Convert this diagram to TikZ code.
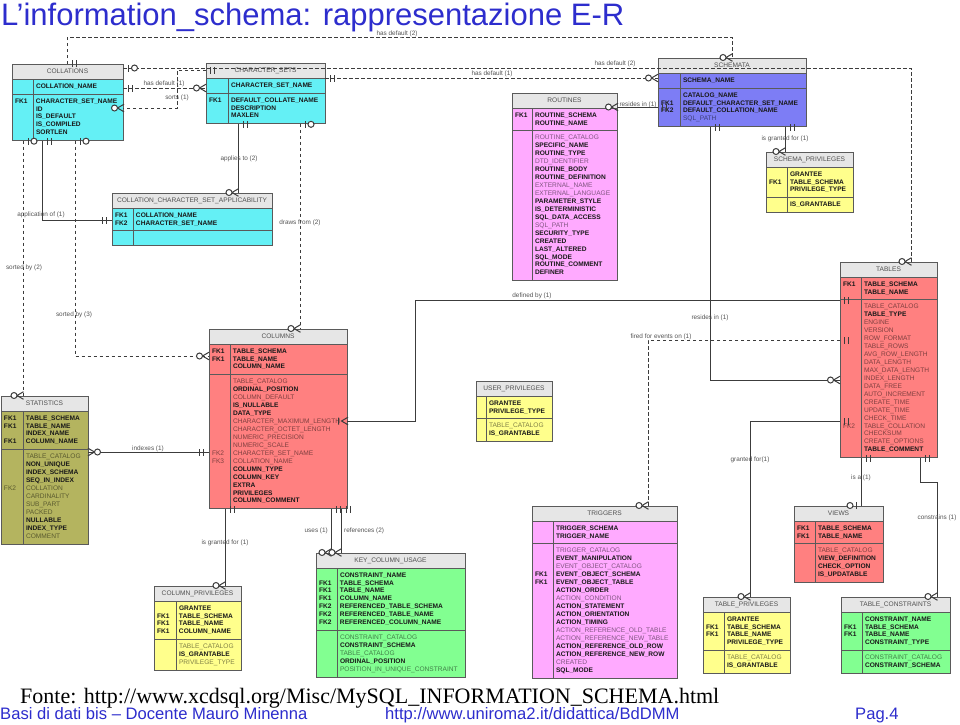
\documentclass[tikz,border=0pt]{standalone}
\usepackage{fontspec}
\setmainfont{Liberation Sans}
\newfontfamily\srcfont{Liberation Serif}
\usetikzlibrary{positioning, decorations.markings}

\definecolor{cyanent}{RGB}{100,240,245}
\definecolor{pinkent}{RGB}{255,170,255}
\definecolor{blueent}{RGB}{125,125,245}
\definecolor{yellowent}{RGB}{255,255,140}
\definecolor{redent}{RGB}{255,128,128}
\definecolor{oliveent}{RGB}{180,180,95}
\definecolor{greenent}{RGB}{130,255,145}
\definecolor{headfill}{RGB}{230,230,230}
\definecolor{headtext}{RGB}{80,80,80}
\definecolor{entborder}{RGB}{90,90,90}
\definecolor{linecol}{RGB}{60,60,60}
\definecolor{labelcol}{RGB}{85,85,85}
\definecolor{titleblue}{RGB}{45,45,205}

\newcommand{\entfont}{\fontsize{6.6}{7.94}\selectfont}
\newcommand{\lblfont}{\fontsize{6.4}{7.7}\selectfont}

% one attribute row: bold (not null) or plain
\newcommand{\rowb}[2]{\textbf{#1} & \textbf{#2}\\}
\newcommand{\rowr}[2]{\textcolor{dim}{#1} & \textcolor{dim}{#2}\\}

% #1 key column, #2 name, #3 top left, #4 width, #5 colour, #6 title, #7 key rows, #8 other rows
\newcommand{\entity}[8][21]{%
  \colorlet{dim}{#5!50!black}%
  \node[ehead, minimum width=#4pt] (#2) at #3 {#6};
  \node[ebody, fill=#5] (#2-pk) at (#2.south west)
    {\makebox[\dimexpr#4pt-6pt\relax][l]{\begin{tabular}{@{}p{\dimexpr#1pt-3pt\relax}@{\hspace{3pt}}l@{}}#7\end{tabular}}};
  \node[ebody, fill=#5] (#2-at) at (#2-pk.south west)
    {\makebox[\dimexpr#4pt-6pt\relax][l]{\begin{tabular}{@{}p{\dimexpr#1pt-3pt\relax}@{\hspace{3pt}}l@{}}#8\end{tabular}}};
  \draw[entline] ([xshift=#1pt]#2-pk.north west) -- ([xshift=#1pt]#2-at.south west);
}

\tikzset{
  onlyone/.pic={\draw[solid] (-5pt,-3.5pt) -- (-5pt,3.5pt) (-9pt,-3.5pt) -- (-9pt,3.5pt);},
  zone/.pic={\draw[solid] (-5pt,-3.5pt) -- (-5pt,3.5pt); \draw[solid, fill=white] (-11pt,0pt) circle (3pt);},
  zmany/.pic={\draw[solid] (0.5pt,-3.8pt) -- (-6pt,0pt) -- (0.5pt,3.8pt); \draw[solid, fill=white] (-9pt,0pt) circle (3pt);},
  onemany/.pic={\draw[solid] (0.5pt,-3.8pt) -- (-6pt,0pt) -- (0.5pt,3.8pt) (-9pt,-3.5pt) -- (-9pt,3.5pt);},
}

\begin{document}
\begin{tikzpicture}[x=1pt, y=-1pt,
    ehead/.style={draw=entborder, line width=0.8pt, fill=headfill, text=headtext, anchor=north west,
                  inner sep=0pt, outer sep=0pt, minimum height=15pt, font=\entfont},
    ebody/.style={draw=entborder, line width=0.8pt, anchor=north west, inner xsep=3pt, inner ysep=3.5pt,
                  outer sep=0pt, minimum height=15pt, text=black!90, font=\entfont},
    entline/.style={draw=entborder, line width=0.8pt},
    rel/.style={draw=linecol, line width=1pt},
    dsh/.style={dash pattern=on 3.5pt off 2.5pt},
    lbl/.style={font=\lblfont, text=labelcol, inner sep=0pt},
    tailmark/.style={postaction={decorate, decoration={markings,
                     mark=at position 0.5pt with {\pic[xscale=-1]{#1};}}}},
    headmark/.style={postaction={decorate, decoration={markings,
                     mark=at position -0.5pt with {\pic{#1};}}}},
  ]
  \fill[white] (0,0) rectangle (960,724);
  \useasboundingbox (0,0) rectangle (960,724);

  \node[anchor=base west, inner sep=0pt, text=titleblue, font=\fontsize{31}{36}\selectfont] (title) at (1,25)
    {L’information\_schema: rappresentazione E-R};

  % entities
  \entity{coll}{(12,64)}{111}{cyanent}{COLLATIONS}
    {\rowb{}{COLLATION\_NAME}}
    {\rowb{FK1}{CHARACTER\_SET\_NAME}\rowb{}{ID}\rowb{}{IS\_DEFAULT}\rowb{}{IS\_COMPILED}\rowb{}{SORTLEN}}
  \entity[22]{chs}{(206,63)}{119}{cyanent}{CHARACTER\_SETS}
    {\rowb{}{CHARACTER\_SET\_NAME}}
    {\rowb{FK1}{DEFAULT\_COLLATE\_NAME}\rowb{}{DESCRIPTION}\rowb{}{MAXLEN}}
  \entity{ccsa}{(112,193)}{160}{cyanent}{COLLATION\_CHARACTER\_SET\_APPLICABILITY}
    {\rowb{FK1}{COLLATION\_NAME}\rowb{FK2}{CHARACTER\_SET\_NAME}}
    {}
  \entity[20]{rout}{(512,93)}{105}{pinkent}{ROUTINES}
    {\rowb{FK1}{ROUTINE\_SCHEMA}\rowb{}{ROUTINE\_NAME}}
    {\rowr{}{ROUTINE\_CATALOG}\rowb{}{SPECIFIC\_NAME}\rowb{}{ROUTINE\_TYPE}\rowr{}{DTD\_IDENTIFIER}
     \rowb{}{ROUTINE\_BODY}\rowb{}{ROUTINE\_DEFINITION}\rowr{}{EXTERNAL\_NAME}\rowr{}{EXTERNAL\_LANGUAGE}
     \rowb{}{PARAMETER\_STYLE}\rowb{}{IS\_DETERMINISTIC}\rowb{}{SQL\_DATA\_ACCESS}\rowr{}{SQL\_PATH}
     \rowb{}{SECURITY\_TYPE}\rowb{}{CREATED}\rowb{}{LAST\_ALTERED}\rowb{}{SQL\_MODE}
     \rowb{}{ROUTINE\_COMMENT}\rowb{}{DEFINER}}
  \entity[22]{schm}{(658,58)}{148}{blueent}{SCHEMATA}
    {\rowb{}{SCHEMA\_NAME}}
    {\rowb{}{CATALOG\_NAME}\rowb{FK1}{DEFAULT\_CHARACTER\_SET\_NAME}\rowb{FK2}{DEFAULT\_COLLATION\_NAME}\rowr{}{SQL\_PATH}}
  \entity{schp}{(766,152)}{87}{yellowent}{SCHEMA\_PRIVILEGES}
    {\rowb{}{GRANTEE}\rowb{FK1}{TABLE\_SCHEMA}\rowb{}{PRIVILEGE\_TYPE}}
    {\rowb{}{IS\_GRANTABLE}}
  \entity{tabs}{(840,262)}{97}{redent}{TABLES}
    {\rowb{FK1}{TABLE\_SCHEMA}\rowb{}{TABLE\_NAME}}
    {\rowr{}{TABLE\_CATALOG}\rowb{}{TABLE\_TYPE}\rowr{}{ENGINE}\rowr{}{VERSION}\rowr{}{ROW\_FORMAT}
     \rowr{}{TABLE\_ROWS}\rowr{}{AVG\_ROW\_LENGTH}\rowr{}{DATA\_LENGTH}\rowr{}{MAX\_DATA\_LENGTH}
     \rowr{}{INDEX\_LENGTH}\rowr{}{DATA\_FREE}\rowr{}{AUTO\_INCREMENT}\rowr{}{CREATE\_TIME}
     \rowr{}{UPDATE\_TIME}\rowr{}{CHECK\_TIME}\rowr{FK2}{TABLE\_COLLATION}\rowr{}{CHECKSUM}
     \rowr{}{CREATE\_OPTIONS}\rowb{}{TABLE\_COMMENT}}
  \entity{cols}{(209,329)}{138}{redent}{COLUMNS}
    {\rowb{FK1}{TABLE\_SCHEMA}\rowb{FK1}{TABLE\_NAME}\rowb{}{COLUMN\_NAME}}
    {\rowr{}{TABLE\_CATALOG}\rowb{}{ORDINAL\_POSITION}\rowr{}{COLUMN\_DEFAULT}\rowb{}{IS\_NULLABLE}
     \rowb{}{DATA\_TYPE}\rowr{}{CHARACTER\_MAXIMUM\_LENGTH}\rowr{}{CHARACTER\_OCTET\_LENGTH}
     \rowr{}{NUMERIC\_PRECISION}\rowr{}{NUMERIC\_SCALE}\rowr{FK2}{CHARACTER\_SET\_NAME}
     \rowr{FK3}{COLLATION\_NAME}\rowb{}{COLUMN\_TYPE}\rowb{}{COLUMN\_KEY}\rowb{}{EXTRA}
     \rowb{}{PRIVILEGES}\rowb{}{COLUMN\_COMMENT}}
  \entity[22]{stat}{(1,396)}{87}{oliveent}{STATISTICS}
    {\rowb{FK1}{TABLE\_SCHEMA}\rowb{FK1}{TABLE\_NAME}\rowb{}{INDEX\_NAME}\rowb{FK1}{COLUMN\_NAME}}
    {\rowr{}{TABLE\_CATALOG}\rowb{}{NON\_UNIQUE}\rowb{}{INDEX\_SCHEMA}\rowb{}{SEQ\_IN\_INDEX}
     \rowr{FK2}{COLLATION}\rowr{}{CARDINALITY}\rowr{}{SUB\_PART}\rowr{}{PACKED}
     \rowb{}{NULLABLE}\rowb{}{INDEX\_TYPE}\rowr{}{COMMENT}}
  \entity[10]{usrp}{(476,381)}{76}{yellowent}{USER\_PRIVILEGES}
    {\rowb{}{GRANTEE}\rowb{}{PRIVILEGE\_TYPE}}
    {\rowr{}{TABLE\_CATALOG}\rowb{}{IS\_GRANTABLE}}
  \entity{trig}{(532,506)}{145}{pinkent}{TRIGGERS}
    {\rowb{}{TRIGGER\_SCHEMA}\rowb{}{TRIGGER\_NAME}}
    {\rowr{}{TRIGGER\_CATALOG}\rowb{}{EVENT\_MANIPULATION}\rowr{}{EVENT\_OBJECT\_CATALOG}
     \rowb{FK1}{EVENT\_OBJECT\_SCHEMA}\rowb{FK1}{EVENT\_OBJECT\_TABLE}\rowb{}{ACTION\_ORDER}
     \rowr{}{ACTION\_CONDITION}\rowb{}{ACTION\_STATEMENT}\rowb{}{ACTION\_ORIENTATION}
     \rowb{}{ACTION\_TIMING}\rowr{}{ACTION\_REFERENCE\_OLD\_TABLE}\rowr{}{ACTION\_REFERENCE\_NEW\_TABLE}
     \rowb{}{ACTION\_REFERENCE\_OLD\_ROW}\rowb{}{ACTION\_REFERENCE\_NEW\_ROW}\rowr{}{CREATED}\rowb{}{SQL\_MODE}}
  \entity{view}{(794,506)}{89}{redent}{VIEWS}
    {\rowb{FK1}{TABLE\_SCHEMA}\rowb{FK1}{TABLE\_NAME}}
    {\rowr{}{TABLE\_CATALOG}\rowb{}{VIEW\_DEFINITION}\rowb{}{CHECK\_OPTION}\rowb{}{IS\_UPDATABLE}}
  \entity{tabp}{(703,597)}{87}{yellowent}{TABLE\_PRIVILEGES}
    {\rowb{}{GRANTEE}\rowb{FK1}{TABLE\_SCHEMA}\rowb{FK1}{TABLE\_NAME}\rowb{}{PRIVILEGE\_TYPE}}
    {\rowr{}{TABLE\_CATALOG}\rowb{}{IS\_GRANTABLE}}
  \entity{tabc}{(841,597)}{109}{greenent}{TABLE\_CONSTRAINTS}
    {\rowb{}{CONSTRAINT\_NAME}\rowb{FK1}{TABLE\_SCHEMA}\rowb{FK1}{TABLE\_NAME}\rowb{}{CONSTRAINT\_TYPE}}
    {\rowr{}{CONSTRAINT\_CATALOG}\rowb{}{CONSTRAINT\_SCHEMA}}
  \entity[22]{colp}{(154,586)}{87}{yellowent}{COLUMN\_PRIVILEGES}
    {\rowb{}{GRANTEE}\rowb{FK1}{TABLE\_SCHEMA}\rowb{FK1}{TABLE\_NAME}\rowb{FK1}{COLUMN\_NAME}}
    {\rowr{}{TABLE\_CATALOG}\rowb{}{IS\_GRANTABLE}\rowr{}{PRIVILEGE\_TYPE}}
  \entity{kcu}{(316,553)}{149}{greenent}{KEY\_COLUMN\_USAGE}
    {\rowb{}{CONSTRAINT\_NAME}\rowb{FK1}{TABLE\_SCHEMA}\rowb{FK1}{TABLE\_NAME}\rowb{FK1}{COLUMN\_NAME}
     \rowb{FK2}{REFERENCED\_TABLE\_SCHEMA}\rowb{FK2}{REFERENCED\_TABLE\_NAME}\rowb{FK2}{REFERENCED\_COLUMN\_NAME}}
    {\rowr{}{CONSTRAINT\_CATALOG}\rowb{}{CONSTRAINT\_SCHEMA}\rowr{}{TABLE\_CATALOG}\rowb{}{ORDINAL\_POSITION}
     \rowr{}{POSITION\_IN\_UNIQUE\_CONSTRAINT}}

  % relationships
  \draw[rel, dsh, tailmark=onlyone, headmark=zmany] (coll.north -| 67,0) |- (400,37) -| (schm.north -| 732,0);
  \draw[rel, dsh, tailmark=zone, headmark=zmany] (coll.east |- 0,68) -| (tabs.north -| 911,0);
  \draw[rel, dsh, tailmark=onlyone, headmark=zmany] (chs.west |- 0,70) -| (177,108) -- (coll-at.east |- 0,108);
  \draw[rel, dsh, tailmark=onlyone, headmark=zmany] (coll-pk.east |- 0,88) -- (chs-pk.west |- 0,88);
  \draw[rel, dsh, tailmark=onlyone, headmark=zmany] (chs-pk.east |- 0,78) -- (schm-pk.west |- 0,78);
  \draw[rel, dsh, tailmark=zone, headmark=zmany] (coll-at.south -| 23,0) -- (stat.north -| 23,0);
  \draw[rel, tailmark=onlyone, headmark=onlyone] (coll-at.south -| 42,0) |- (ccsa-pk.west |- 0,220);
  \draw[rel, dsh, tailmark=zone, headmark=zmany] (coll-at.south -| 75,0) |- (cols-pk.west |- 0,356);
  \draw[rel, tailmark=onlyone, headmark=zmany] (chs-at.south -| 238,0) -- (ccsa.north -| 238,0);
  \draw[rel, dsh, tailmark=zone, headmark=zmany] (chs-at.south -| 300,0) -- (cols.north -| 300,0);
  \draw[rel, tailmark=onlyone, headmark=zmany] (schm-at.west |- 0,107) -- (rout-pk.east |- 0,107);
  \draw[rel, tailmark=onlyone, headmark=zmany] (schm-at.south -| 710,0) |- (tabs-at.west |- 0,380);
  \draw[rel, tailmark=onlyone, headmark=zmany] (schm-at.south -| 785,0) -- (schp.north -| 785,0);
  \draw[rel, tailmark=onlyone, headmark=onemany] (tabs-at.west |- 0,300) -| (415,421) -- (cols-at.east |- 0,421);
  \draw[rel, dsh, tailmark=onlyone, headmark=zmany] (tabs-at.west |- 0,340) -| (trig.north -| 648,0);
  \draw[rel, tailmark=onlyone, headmark=zmany] (tabs-at.west |- 0,421) -| (tabp.north -| 750,0);
  \draw[rel, tailmark=onlyone, headmark=zone] (tabs-at.south -| 861,0) -- (view.north -| 861,0);
  \draw[rel, tailmark=onlyone, headmark=zmany] (tabs-at.south -| 920,0) |- (937,482) -- (tabc.north -| 937,0);
  \draw[rel, tailmark=zmany, headmark=onlyone] (stat-at.east |- 0,452) -- (cols-at.west |- 0,452);
  \draw[rel, tailmark=onlyone, headmark=zmany] (cols-at.south -| 225,0) -- (colp.north -| 225,0);
  \draw[rel, tailmark=onlyone, headmark=zmany] (cols-at.south -| 331,0) -- (kcu.north -| 331,0);
  \draw[rel, tailmark=onlyone, headmark=zmany] (cols-at.south -| 341,0) -- (kcu.north -| 341,0);

  % relationship names
  \node[lbl] (hd2a) at (397,34) {has default (2)};
  \node[lbl] (hd2b) at (615,64) {has default (2)};
  \node[lbl] (hd1a) at (164,84) {has default (1)};
  \node[lbl] (hd1b) at (492,74) {has default (1)};
  \node[lbl] (srt1) at (177,98) {sorts (1)};
  \node[lbl] (app1) at (41,215) {application of (1)};
  \node[lbl] (app2) at (239,159) {applies to (2)};
  \node[lbl] (drw2) at (300,223) {draws from (2)};
  \node[lbl] (sb2) at (24,268) {sorted by (2)};
  \node[lbl] (sb3) at (74,315) {sorted by (3)};
  \node[lbl] (idx1) at (148,449) {indexes (1)};
  \node[lbl] (gcol) at (225,543) {is granted for (1)};
  \node[lbl, anchor=east] (use1) at (328,531) {uses (1)};
  \node[lbl, anchor=west] (ref2) at (344,531) {references (2)};
  \node[lbl] (def1) at (532,296) {defined by (1)};
  \node[lbl] (res1) at (638,105) {resides in (1)};
  \node[lbl] (res2) at (710,318) {resides in (1)};
  \node[lbl] (gsch) at (785,139) {is granted for (1)};
  \node[lbl] (fire) at (661,337) {fired for events on (1)};
  \node[lbl] (gtab) at (750,460) {granted for(1)};
  \node[lbl] (isa1) at (861,478) {is a (1)};
  \node[lbl] (cns1) at (937,518) {constrains (1)};

  % footer
  \node[anchor=base west, inner sep=0pt, font=\srcfont\fontsize{22}{26}\selectfont] (src) at (20,703)
    {Fonte: http://www.xcdsql.org/Misc/MySQL\_INFORMATION\_SCHEMA.html};
  \node[anchor=base west, inner sep=0pt, text=titleblue, font=\fontsize{16.6}{19}\selectfont] (course) at (0,719)
    {Basi di dati bis – Docente Mauro Minenna};
  \node[anchor=base west, inner sep=0pt, text=titleblue, font=\fontsize{16.6}{19}\selectfont] (site) at (385,719)
    {http://www.uniroma2.it/didattica/BdDMM};
  \node[anchor=base west, inner sep=0pt, text=titleblue, font=\fontsize{16.6}{19}\selectfont] (page) at (855,719)
    {Pag.4};
\end{tikzpicture}
\end{document}
